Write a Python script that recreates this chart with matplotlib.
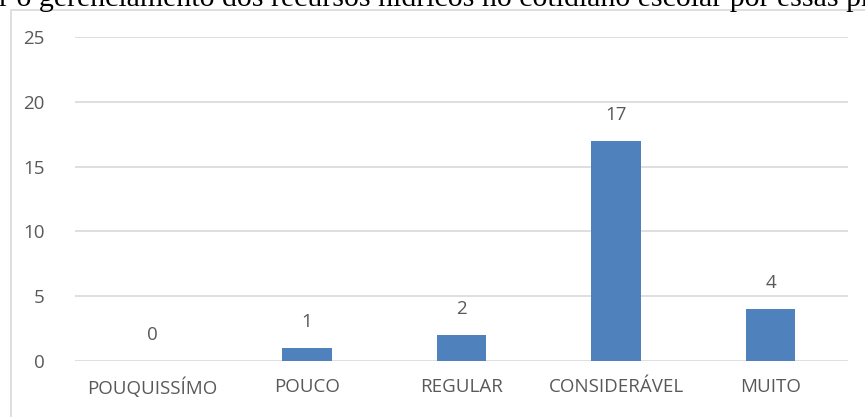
import matplotlib.pyplot as plt
from matplotlib.patches import Rectangle

# respostas por categoria
categorias = ["POUQUISSÍMO", "POUCO", "REGULAR", "CONSIDERÁVEL", "MUITO"]
respostas = [0, 1, 2, 17, 4]
yticks = [0, 5, 10, 15, 20, 25]

cor_barra = "#4F81BD"
cor_texto = "#595959"
cor_grade = "#D9D9D9"

plt.rcParams["font.family"] = ["Open Sans", "DejaVu Sans"]

fig = plt.figure(figsize=(8.65, 4.17), dpi=100)

# moldura do grafico (continua alem da borda direita e inferior)
fig.patches.append(Rectangle((11 / 865, -0.1), 1.0, (417 - 10) / 417 + 0.1,
                             transform=fig.transFigure, fill=False,
                             edgecolor=cor_grade, linewidth=1.2))

# titulo cortado no topo
fig.text(-0.001, 1 - 6.5 / 417,
         "r o gerenciamento dos recursos hídricos no cotidiano escolar por essas pr",
         family="Liberation Serif", fontsize=21.5, color="black",
         ha="left", va="baseline")

ax = fig.add_axes([75 / 865, 56 / 417, 773 / 865, 324 / 417])
x = range(len(categorias))
barras = ax.bar(x, respostas, width=0.32, color=cor_barra, zorder=3)

for xi, v in zip(x, respostas):
    ax.annotate(str(v), (xi, v), xytext=(0, 12), textcoords="offset points",
                ha="center", va="bottom", fontsize=13.5, color=cor_texto)

ax.set_xlim(-0.5, len(categorias) - 0.5)
ax.set_ylim(0, 25)
ax.set_yticks(yticks)
ax.set_xticks(list(x))
ax.set_xticklabels(categorias)
ax.tick_params(axis="both", length=0, labelsize=13.5, labelcolor=cor_texto)
ax.tick_params(axis="y", pad=22)
ax.tick_params(axis="x", pad=12)
ax.grid(axis="y", color=cor_grade, linewidth=1.2, zorder=0)
for s in ax.spines.values():
    s.set_visible(False)

plt.savefig("out.png", dpi=100)
